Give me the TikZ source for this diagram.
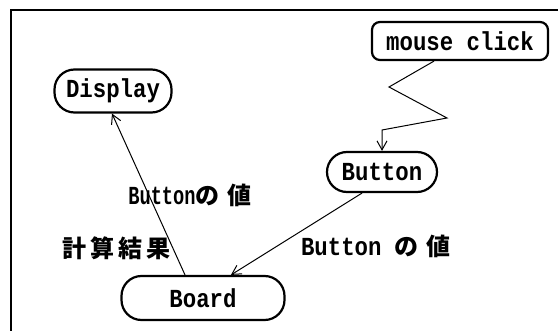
\documentclass[tikz,border=0pt]{standalone}
\usepackage{fontspec}
\newfontfamily\mono[FakeStretch=0.86]{Liberation Mono}
\newfontfamily\monon[FakeStretch=0.72]{Liberation Mono}
\newfontfamily\jp{Noto Sans CJK JP}
\usetikzlibrary{arrows.meta}
\tikzset{
  stadium/.style={draw, line width=2.2pt, rounded corners=20pt, inner sep=0pt, font=\mono\bfseries\fontsize{26}{26}\selectfont},
  boxr/.style={draw, line width=2.2pt, rounded corners=8pt, inner sep=0pt, font=\mono\bfseries\fontsize{26}{26}\selectfont},
  conn/.style={line width=1pt, -{Straight Barb[length=9pt,width=10pt,line width=1pt]}},
  lbl/.style={inner sep=0pt},
  frame/.style={line width=2pt}
}
\begin{document}
\begin{tikzpicture}[x=1pt,y=-1pt]
\useasboundingbox (0,0) rectangle (558,331);
\coordinate (fa) at (11,331);
\coordinate (fb) at (11,10);
\coordinate (fc) at (558,10);
\draw[frame] (fa) -- (fb) -- (fc);
\node[stadium, minimum width=117pt, minimum height=43pt] (display) at (113,91) {Display};
\node[boxr, minimum width=176pt, minimum height=38pt] (mouse) at (460,41) {mouse click};
\node[stadium, minimum width=110pt, minimum height=40pt] (button) at (382,172) {Button};
\node[stadium, minimum width=163pt, minimum height=44pt] (board) at (203,298) {Board};
\coordinate (z1) at (389,87);
\coordinate (z2) at (447,118);
\coordinate (z3) at (382,130);
\draw[conn] ([xshift=-26pt]mouse.south) -- (z1) -- (z2) -- (z3) -- (button.north);
\draw[conn] ([xshift=-20pt]button.south) -- ([xshift=28pt]board.north);
\draw[conn] ([xshift=-18pt]board.north) -- ([xshift=-1pt]display.south);
\node[lbl] (l1) at (190,195) {{\monon\bfseries\fontsize{26}{26}\selectfont Button}{\jp\bfseries\fontsize{24}{24}\selectfont の\,\,値}};
\node[lbl] (l2) at (117,248) {\jp\bfseries\fontsize{24}{24}\selectfont 計\,算\,結\,果};
\node[lbl] (l3) at (376,246) {{\mono\bfseries\fontsize{26}{26}\selectfont Button }{\jp\bfseries\fontsize{24}{24}\selectfont の\,\,値}};
\end{tikzpicture}
\end{document}
